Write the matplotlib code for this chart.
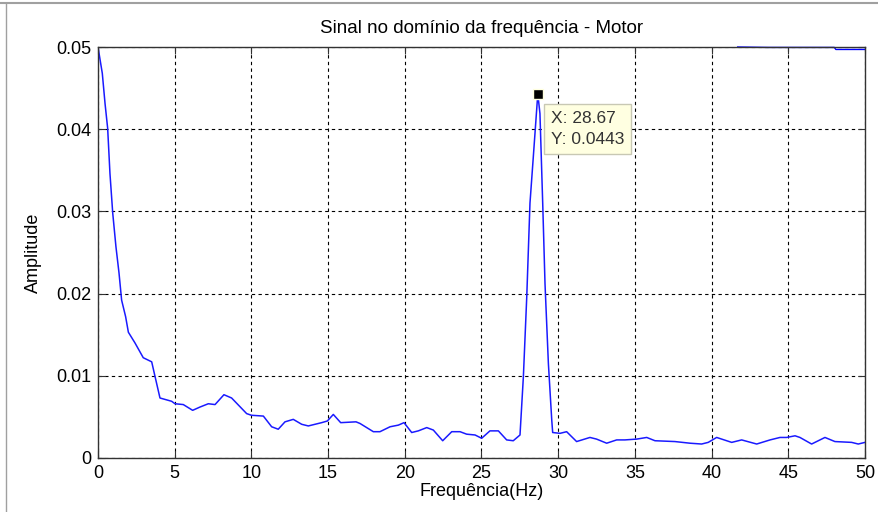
import numpy as np
import matplotlib.pyplot as plt
from matplotlib.lines import Line2D

# spectrum (Hz, amplitude)
freq = [0.0, 0.28, 0.46, 0.63, 0.78, 0.96, 1.17, 1.37, 1.54, 1.8, 1.98,
        2.41, 2.95, 3.5, 3.72, 4.04, 4.8, 5.02, 5.56, 6.17, 6.65, 7.19,
        7.63, 8.21, 8.71, 9.69, 10.0, 10.78, 11.32, 11.75, 12.19, 12.73,
        13.28, 13.71, 14.58, 14.95, 15.34, 15.82, 16.82, 17.08, 17.95,
        18.38, 19.04, 19.58, 19.95, 20.45, 20.88, 21.43, 21.86, 22.47,
        23.06, 23.6, 24.03, 24.58, 25.01, 25.55, 26.1, 26.64, 27.07, 27.51,
        27.73, 27.95, 28.16, 28.38, 28.67, 28.81, 28.99, 29.14, 29.36,
        29.58, 29.64, 30.12, 30.55, 31.2, 32.07, 32.5, 33.16, 33.81, 34.35,
        35.12, 35.77, 36.31, 37.61, 38.59, 39.35, 39.78, 40.33, 41.31,
        41.96, 42.94, 43.81, 44.46, 44.89, 45.44, 45.76, 46.52, 47.39,
        48.04, 49.13, 49.56, 50.0]
amp = [0.0500, 0.0468, 0.0431, 0.0401, 0.0346, 0.0298, 0.0257, 0.0225,
       0.0192, 0.0172, 0.0153, 0.0140, 0.0122, 0.0117, 0.0099, 0.0073,
       0.0069, 0.0066, 0.0065, 0.0058, 0.0062, 0.0066, 0.0065, 0.0077,
       0.0073, 0.0054, 0.0052, 0.0051, 0.0038, 0.0035, 0.0044, 0.0047,
       0.0041, 0.0039, 0.0043, 0.0045, 0.0053, 0.0043, 0.0044, 0.0042,
       0.0032, 0.0032, 0.0038, 0.0040, 0.0043, 0.0031, 0.0033, 0.0037,
       0.0034, 0.0021, 0.0032, 0.0032, 0.0029, 0.0028, 0.0024, 0.0033,
       0.0033, 0.0022, 0.0021, 0.0028, 0.0099, 0.0196, 0.0310, 0.0367,
       0.0443, 0.0419, 0.0310, 0.0212, 0.0115, 0.0046, 0.0031, 0.0030,
       0.0032, 0.0020, 0.0025, 0.0023, 0.0018, 0.0022, 0.0022, 0.0023,
       0.0025, 0.0021, 0.0020, 0.0018, 0.0017, 0.0019, 0.0025, 0.0019,
       0.0022, 0.0017, 0.0022, 0.0025, 0.0025, 0.0027, 0.0025, 0.0017,
       0.0025, 0.0020, 0.0019, 0.0017, 0.0019]

# stray trace hugging the top edge on the right
top_freq = [41.7, 43.7, 48.0, 48.1, 50.0]
top_amp = [0.0500, 0.04995, 0.04995, 0.0497, 0.0497]

peak_f, peak_a = 28.67, 0.0443

plt.rcParams['font.family'] = ['Liberation Sans', 'DejaVu Sans']

fig = plt.figure(figsize=(8.79, 5.12), dpi=100)
ax = fig.add_axes([98 / 879, 1 - 458 / 512, 767 / 879, 411 / 512])

ax.plot(freq, amp, color='#1a1aff', lw=1.1)
ax.plot(top_freq, top_amp, color='#0000ff', lw=1, clip_on=False)

ax.set_xlim(0, 50)
ax.set_ylim(0, 0.05)
ax.set_xticks(np.arange(0, 51, 5))
ax.set_yticks([0, 0.01, 0.02, 0.03, 0.04, 0.05])
ax.set_yticklabels(['0', '0.01', '0.02', '0.03', '0.04', '0.05'])
ax.grid(True, color='black', linestyle=(0, (3, 3)), lw=0.8)
ax.tick_params(direction='in', length=5, labelsize=13, top=True, right=True,
               color='#333333', pad=5)
for s in ax.spines.values():
    s.set_color('#333333')
    s.set_linewidth(1)

ax.set_title('Sinal no domínio da frequência - Motor', fontsize=13.5, pad=10)
ax.set_xlabel('Frequência(Hz)', fontsize=13, labelpad=1)
ax.set_ylabel('Amplitude', fontsize=13, labelpad=10)

# data tip
ax.plot(peak_f, peak_a, 's', color='black', ms=7.5, mec='#ffffe0', mew=1)
ax.text(29.5, 0.0422, 'X: %.2f\nY: %.4f' % (peak_f, peak_a), fontsize=12.5,
        va='top', ha='left', linespacing=1.5, color='#333333',
        bbox=dict(boxstyle='square,pad=0.4', fc='#ffffe1', ec='#c8c8b4', lw=1))

# screenshot frame lines
fig.add_artist(Line2D([0, 1], [1 - 3 / 512, 1 - 3 / 512], color='#a0a0a0', lw=1.5))
fig.add_artist(Line2D([6 / 879, 6 / 879], [0, 1 - 3 / 512], color='#a0a0a0', lw=1))

fig.savefig('out.png', dpi=100)
